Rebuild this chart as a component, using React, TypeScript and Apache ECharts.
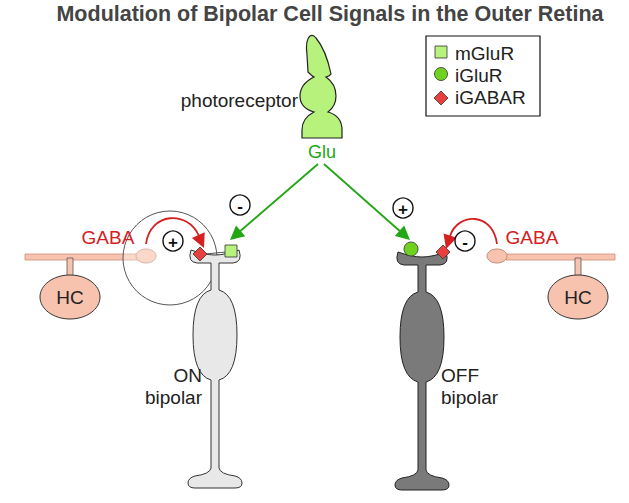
import React, { useEffect, useRef } from "react";
import * as echarts from "echarts";

const titleText = "Modulation of Bipolar Cell Signals in the Outer Retina";
const legendLabels = ["mGluR", "iGluR", "iGABAR"];
const cellLabels = ["photoreceptor", "Glu", "GABA", "HC", "ON\nbipolar", "OFF\nbipolar"];

const PINK = "#f8c3ae";
const GREEN = "#b6f27c";
const RED = "#e8403f";
const ARROW_GREEN = "#22a614";

const bipolarPath =
  "M -24 0 Q -28 12 -18 13 L -4 13 L -4 40 Q -22 45 -22 85 Q -22 125 -4 130 L -4 218 Q -5 224 -20 226 Q -27 228 -27 233 Q -27 238 -20 238 L 20 238 Q 27 238 27 233 Q 27 228 20 226 Q 5 224 4 218 L 4 130 Q 22 125 22 85 Q 22 45 4 40 L 4 13 L 18 13 Q 28 12 24 0 Q 10 5 0 5 Q -10 5 -24 0 Z";
const photoPath =
  "M 310 36 Q 305 40 307 55 L 308 72 Q 312 76 314 77 Q 300 84 300 96 Q 300 108 314 112 Q 302 118 302 130 L 302 138 L 342 138 L 342 130 Q 342 116 328 112 Q 336 106 336 96 Q 336 84 326 77 Q 330 76 331 74 Q 326 50 316 38 Q 313 34 310 36 Z";

echarts.graphic.registerShape("bipolar", echarts.graphic.extendPath(bipolarPath, {}));
echarts.graphic.registerShape("photo", echarts.graphic.extendPath(photoPath, {}));

function arrowHead(x1: number, y1: number, x2: number, y2: number, color: string, len = 12, w = 6) {
  const a = Math.atan2(y2 - y1, x2 - x1);
  const bx = x2 - len * Math.cos(a), by = y2 - len * Math.sin(a);
  const px = -Math.sin(a) * w, py = Math.cos(a) * w;
  return {
    type: "polygon",
    shape: { points: [[x2, y2], [bx + px, by + py], [bx - px, by - py]] },
    style: { fill: color },
  };
}

function signCircle(x: number, y: number, s: string) {
  return [
    { type: "circle", shape: { cx: x, cy: y, r: 10 }, style: { fill: "#fff", stroke: "#111", lineWidth: 1.4 } },
    { type: "text", x, y: y + 1, style: { text: s, fill: "#111", font: "bold 17px Arial", align: "center", verticalAlign: "middle" } },
  ];
}

function diamond(x: number, y: number) {
  return {
    type: "polygon",
    shape: { points: [[x, y - 7], [x + 7, y], [x, y + 7], [x - 7, y]] },
    style: { fill: RED, stroke: "#333", lineWidth: 0.8 },
  };
}

function hc(bulbX: number, tubeX1: number, tubeX2: number, stemX: number) {
  return [
    { type: "rect", shape: { x: tubeX1, y: 254, width: tubeX2 - tubeX1, height: 6 }, style: { fill: PINK, stroke: "#c98a76", lineWidth: 0.8 } },
    { type: "rect", shape: { x: stemX - 3, y: 258, width: 6, height: 20 }, style: { fill: PINK, stroke: "#555", lineWidth: 0.8 } },
    { type: "ellipse", shape: { cx: stemX, cy: 297, rx: 30, ry: 22 }, style: { fill: PINK, stroke: "#333", lineWidth: 1 } },
    { type: "text", x: stemX, y: 297, style: { text: cellLabels[3], font: "19px Arial", fill: "#222", align: "center", verticalAlign: "middle" } },
    { type: "ellipse", shape: { cx: bulbX, cy: 256, rx: 10, ry: 7 }, style: { fill: PINK, stroke: "#c98a76", lineWidth: 1 } },
  ];
}

const App: React.FC = () => {
  const ref = useRef<HTMLDivElement>(null);
  useEffect(() => {
    if (!ref.current) return;
    const chart = echarts.init(ref.current, undefined, { renderer: "svg" });
    const graphic: any[] = [
      { type: "text", x: 330, y: 14, style: { text: titleText, font: "bold 21.5px Arial", fill: "#444", align: "center", verticalAlign: "middle" } },
      // legend
      { type: "rect", shape: { x: 426, y: 36, width: 114, height: 80 }, style: { fill: "#fff", stroke: "#111", lineWidth: 1.2 } },
      { type: "rect", shape: { x: 435, y: 46, width: 12, height: 12 }, style: { fill: GREEN, stroke: "#333", lineWidth: 0.8 } },
      { type: "circle", shape: { cx: 441, cy: 74, r: 6.5 }, style: { fill: "#6ed21e", stroke: "#333", lineWidth: 0.8 } },
      diamond(441, 98),
      ...legendLabels.map((t, i) => ({ type: "text", x: 455, y: 53 + i * 22, style: { text: t, font: "19px Arial", fill: "#222", verticalAlign: "middle" } })),
      // photoreceptor
      { type: "photo", style: { fill: GREEN, stroke: "#222", lineWidth: 1.2 } },
      { type: "text", x: 298, y: 100, style: { text: cellLabels[0], font: "19px Arial", fill: "#222", align: "right", verticalAlign: "middle" } },
      { type: "text", x: 322, y: 152, style: { text: cellLabels[1], font: "18px Arial", fill: ARROW_GREEN, align: "center", verticalAlign: "middle" } },
      // green arrows
      { type: "line", shape: { x1: 318, y1: 164, x2: 238, y2: 233 }, style: { stroke: ARROW_GREEN, lineWidth: 1.8 } },
      arrowHead(318, 164, 230, 240, ARROW_GREEN, 14, 7),
      { type: "line", shape: { x1: 324, y1: 164, x2: 402, y2: 233 }, style: { stroke: ARROW_GREEN, lineWidth: 1.8 } },
      arrowHead(324, 164, 410, 240, ARROW_GREEN, 14, 7),
      ...signCircle(240, 205, "-"),
      ...signCircle(403, 208, "+"),
      // HCs
      ...hc(146, 25, 140, 70),
      ...hc(497, 506, 615, 578),
      // magnifier
      { type: "circle", shape: { cx: 170, cy: 258, r: 47 }, style: { fill: "rgba(255,255,255,0.35)", stroke: "#555", lineWidth: 1 } },
      // bipolar cells
      { type: "bipolar", x: 215, y: 250, style: { fill: "#e8e8e8", stroke: "#333", lineWidth: 1 } },
      { type: "bipolar", x: 422, y: 252, style: { fill: "#7a7a7a", stroke: "#222", lineWidth: 1 } },
      { type: "line", shape: { x1: 205, y1: 254, x2: 226, y2: 252 }, style: { stroke: "#555", lineWidth: 1 } },
      diamond(200, 254),
      { type: "rect", shape: { x: 225, y: 245, width: 12, height: 12 }, style: { fill: GREEN, stroke: "#333", lineWidth: 0.8 } },
      { type: "circle", shape: { cx: 411, cy: 249, r: 7 }, style: { fill: "#6ed21e", stroke: "#333", lineWidth: 0.8 } },
      diamond(443, 252),
      // GABA arrows
      { type: "text", x: 108, y: 237, style: { text: cellLabels[2], font: "19px Arial", fill: "#d42020", align: "center", verticalAlign: "middle" } },
      { type: "bezierCurve", shape: { x1: 146, y1: 244, cpx1: 150, cpy1: 212, cpx2: 188, cpy2: 210, x2: 199, y2: 236 }, style: { stroke: "#d42020", lineWidth: 1.8, fill: "none" } },
      arrowHead(196, 230, 204, 248, "#d42020", 14, 7),
      ...signCircle(173, 241, "+"),
      { type: "text", x: 532, y: 237, style: { text: cellLabels[2], font: "19px Arial", fill: "#d42020", align: "center", verticalAlign: "middle" } },
      { type: "bezierCurve", shape: { x1: 497, y1: 244, cpx1: 493, cpy1: 212, cpx2: 458, cpy2: 212, x2: 450, y2: 236 }, style: { stroke: "#d42020", lineWidth: 1.8, fill: "none" } },
      arrowHead(452, 230, 446, 249, "#d42020", 14, 7),
      ...signCircle(465, 241, "-"),
      // labels
      { type: "text", x: 202, y: 386, style: { text: cellLabels[4], font: "19px Arial", fill: "#222", align: "right", verticalAlign: "middle", lineHeight: 22 } },
      { type: "text", x: 441, y: 386, style: { text: cellLabels[5], font: "19px Arial", fill: "#222", align: "left", verticalAlign: "middle", lineHeight: 22 } },
    ];
    chart.setOption({ animation: false, graphic });
    return () => chart.dispose();
  }, []);
  return <div ref={ref} style={{ position: "fixed", left: 0, top: 0, width: 629, height: 503, background: "#fff" }} />;
};

export default App;
